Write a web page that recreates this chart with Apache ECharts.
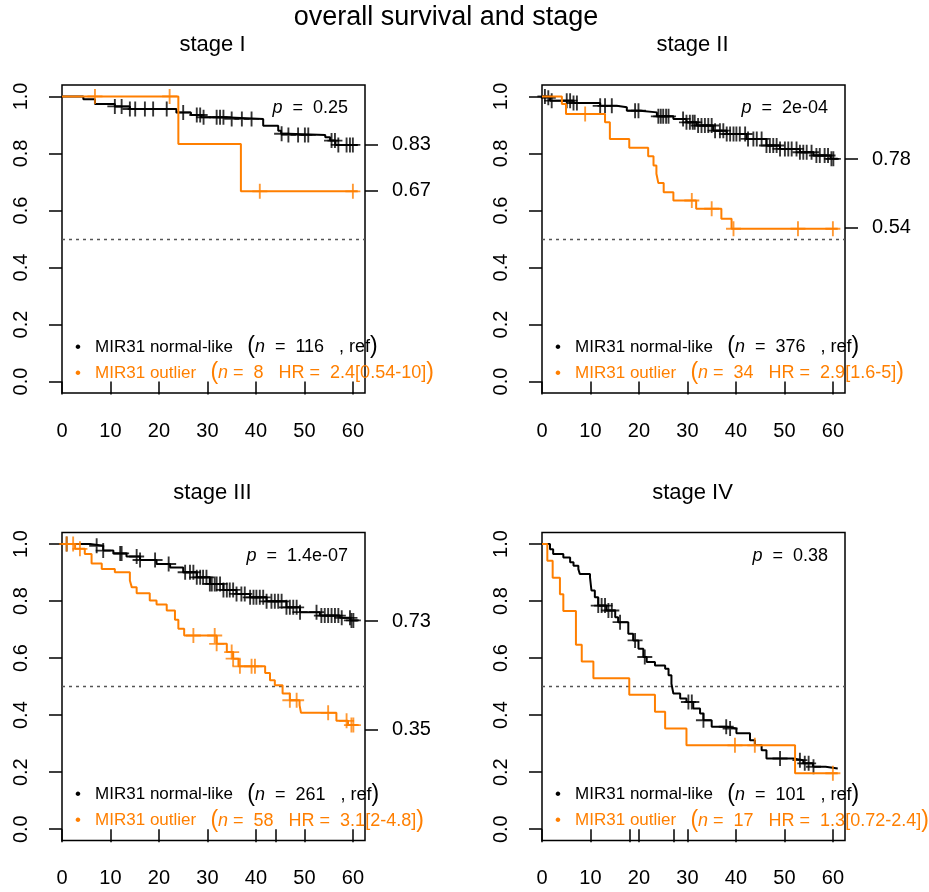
<!DOCTYPE html>
<html><head><meta charset="utf-8">
<script src="https://cdn.jsdelivr.net/npm/echarts@6/dist/echarts.min.js"></script>
<style>html,body{margin:0;padding:0;background:#fff}#c{width:929px;height:892px}</style>
</head><body><div id="c"></div>
<script>
// ---------------- data ----------------
const mainTitle = 'overall survival and stage';
const panelTitles = ['stage I', 'stage II', 'stage III', 'stage IV'];
const xTicks = [0, 10, 20, 30, 40, 50, 60];
const yTicks = [0, 0.2, 0.4, 0.6, 0.8, 1.0];
const groupNames = ['MIR31 normal-like', 'MIR31 outlier'];

// stage I
const s1Normal = [[0,1],[4.4,0.99],[6.8,0.973],[10.9,0.965],[14.0,0.956],[23.6,0.944],[26.6,0.935],[28.7,0.927],[33.5,0.921],[41.5,0.897],[44.6,0.88],[45.2,0.869],[46.7,0.865],[54.3,0.857],[55.3,0.845],[56.4,0.83],[61,0.83]];
const s1NormalCensor = [10.9,12.3,14.0,15.1,17.1,18.8,21.6,25.0,27.8,28.5,29.2,31.9,32.6,33.3,35.0,37.1,39.1,45.3,46.7,48.7,50.1,50.8,55.6,56.3,57.0,58.7,59.4,60.0];
const s1Outlier = [[0,1],[24.0,0.833],[36.9,0.667],[61,0.667]];
const s1OutlierCensor = [6.8,22.2,40.8,60];

// stage II
const s2Normal = [[0,1],[0.8,0.995],[1.65,0.985],[6.5,0.977],[12.0,0.967],[15.4,0.962],[17.5,0.95],[20.2,0.944],[23.7,0.93],[27.1,0.921],[29.8,0.909],[31.9,0.898],[35.3,0.88],[38.1,0.868],[42.2,0.851],[46.3,0.828],[49.1,0.816],[53.2,0.804],[56.0,0.793],[59.5,0.781],[61,0.781]];
const s2NormalCensor = [0.6,1.3,2.0,5.1,5.8,6.5,7.2,12.0,13.0,14.4,19.2,19.9,24.0,24.5,25.0,25.6,26.1,29.1,29.8,30.5,31.1,31.5,32.2,32.9,33.6,34.3,35.0,35.7,36.7,37.4,38.1,38.8,39.5,40.1,40.8,41.9,42.5,43.6,44.3,45.3,46.3,47.0,47.7,48.4,49.1,50.1,50.8,51.5,52.5,53.2,53.9,54.6,55.6,56.6,57.3,58.3,59.0,59.7,60.1];
const s2Outlier = [[0,1],[4.1,0.973],[4.95,0.938],[13.0,0.909],[14.0,0.851],[18.0,0.82],[21.9,0.79],[23.0,0.758],[23.6,0.729],[24.0,0.696],[25.1,0.664],[27.1,0.635],[31.8,0.606],[37.0,0.571],[39.1,0.536],[61,0.536]];
const s2OutlierCensor = [8.9,30.9,35.0,39.5,52.8,60];

// stage III
const s3Normal = [[0,1],[5.8,0.994],[8.5,0.977],[10.6,0.967],[13.3,0.956],[16.1,0.944],[19.5,0.93],[22.3,0.918],[25.0,0.901],[27.8,0.883],[30.5,0.86],[33.3,0.839],[36.0,0.825],[38.8,0.813],[42.2,0.799],[46.3,0.778],[49.1,0.761],[53.2,0.749],[57.3,0.741],[59.5,0.732],[61,0.732]];
const s3NormalCensor = [0.96,7.15,8.5,12.0,12.3,15.4,16.1,19.2,22.0,25.4,26.4,27.1,27.8,28.5,29.1,29.8,30.5,30.9,31.5,31.9,32.6,33.3,34.0,34.6,35.3,36.0,37.0,37.7,38.8,39.5,40.1,40.8,41.5,42.2,43.2,43.9,44.6,45.3,46.3,47.0,47.7,48.4,49.1,52.5,53.5,54.2,54.9,55.6,56.3,57.0,57.7,59.4,59.7,60.1];
const s3Outlier = [[0,1],[2.7,0.983],[4.7,0.965],[6.1,0.932],[8.2,0.912],[10.9,0.901],[14.0,0.872],[14.4,0.848],[15.4,0.827],[18.1,0.802],[19.5,0.788],[21.6,0.767],[23.3,0.734],[24.0,0.703],[25.2,0.679],[31.9,0.65],[34.0,0.621],[35.3,0.598],[36.4,0.571],[41.9,0.548],[42.9,0.522],[43.9,0.505],[45.5,0.476],[47.0,0.452],[49.0,0.435],[49.3,0.408],[56.6,0.38],[59.0,0.365],[61,0.365]];
const s3OutlierCensor = [0.96,2.3,3.7,27.1,31.5,31.9,35.0,35.3,36.7,39.1,39.8,47.0,48.4,54.9,58.7,59.7,60.1];

// stage IV
const s4Normal = [[0,1],[1.65,0.982],[2.3,0.965],[4.4,0.953],[5.8,0.936],[6.5,0.924],[7.5,0.912],[7.8,0.895],[9.9,0.883],[10.2,0.837],[10.9,0.813],[11.6,0.784],[13.3,0.767],[15.1,0.743],[15.7,0.726],[17.8,0.685],[18.8,0.662],[19.9,0.633],[20.9,0.604],[21.6,0.586],[23.3,0.574],[25.4,0.563],[26.1,0.54],[26.7,0.51],[27.1,0.476],[28.5,0.458],[29.8,0.446],[31.2,0.423],[32.6,0.406],[33.3,0.382],[35.0,0.359],[38.1,0.353],[40.1,0.336],[42.9,0.312],[43.9,0.295],[45.3,0.277],[46.3,0.248],[51.8,0.242],[53.9,0.231],[55.9,0.219],[58.5,0.213],[61,0.213]];
const s4NormalCensor = [11.6,12.3,13.0,13.7,14.4,16.1,19.2,21.2,30.2,30.9,33.3,38.0,38.8,49.1,53.2,54.2,55.0,56.0];
const s4Outlier = [[0,1],[1.1,0.941],[2.2,0.882],[3.7,0.824],[4.4,0.765],[7.0,0.647],[8.2,0.588],[10.6,0.529],[18.0,0.471],[23.3,0.412],[25.4,0.353],[29.8,0.294],[52.2,0.196],[61,0.196]];
const s4OutlierCensor = [39.8,43.9,60];

const normalN = ['116', '376', '261', '101'];
const outlierN = ['8', '34', '58', '17'];
const outlierHR = ['2.4[0.54-10]', '2.9[1.6-5]', '3.1[2-4.8]', '1.3[0.72-2.4]'];
const pValues = ['0.25', '2e-04', '1.4e-07', '0.38'];
const rightLabels = [[0.83, 0.67], [0.78, 0.54], [0.73, 0.35], []];
const medianTicks = [[], [], [44], [18, 27.1]];

const normalCurves = [s1Normal, s2Normal, s3Normal, s4Normal];
const normalCensors = [s1NormalCensor, s2NormalCensor, s3NormalCensor, s4NormalCensor];
const outlierCurves = [s1Outlier, s2Outlier, s3Outlier, s4Outlier];
const outlierCensors = [s1OutlierCensor, s2OutlierCensor, s3OutlierCensor, s4OutlierCensor];

// ---------------- layout / style ----------------
const FONT = '"Liberation Sans", Arial, Helvetica, sans-serif';
const ORANGE = '#FF7F00';
const gridLeft = [62, 542, 62, 542];
const gridTop = [85, 85, 532.6, 532.6];
const GW = 303, GH = 308;
const PLUS = 'path://M-1.25,-10 L1.25,-10 L1.25,-1.25 L10,-1.25 L10,1.25 L1.25,1.25 L1.25,10 L-1.25,10 L-1.25,1.25 L-10,1.25 L-10,-1.25 L-1.25,-1.25 Z';

function stepAt(curve, t) {
  let v = curve[0][1];
  for (const p of curve) { if (p[0] <= t) v = p[1]; else break; }
  return v;
}

const grids = [], xAxes = [], yAxes = [], series = [], graphics = [];

for (let i = 0; i < 4; i++) {
  grids.push({ left: gridLeft[i], top: gridTop[i], width: GW, height: GH, show: true, borderColor: '#000', borderWidth: 1.5, backgroundColor: 'transparent' });
  const tickVals = xTicks.concat(medianTicks[i]).sort((a, b) => a - b);
  xAxes.push({
    type: 'value', gridIndex: i, min: 0, max: 62.5,
    axisLine: { show: false },
    axisTick: { show: true, length: 13, lineStyle: { color: '#000', width: 1.5 }, customValues: tickVals },
    axisLabel: { show: true, margin: 28, fontSize: 20, color: '#000', fontFamily: FONT, customValues: xTicks },
    splitLine: { show: false }
  });
  yAxes.push({
    type: 'value', gridIndex: i, min: -0.04, max: 1.04, position: 'left',
    axisLine: { show: false },
    axisTick: { show: true, length: 13, lineStyle: { color: '#000', width: 1.5 }, customValues: yTicks },
    axisLabel: { show: true, margin: 31, rotate: 90, fontSize: 20, color: '#000', fontFamily: FONT, customValues: yTicks, formatter: v => v.toFixed(1) },
    splitLine: { show: false }
  });
  yAxes.push({
    type: 'value', gridIndex: i, min: -0.04, max: 1.04, position: 'right',
    axisLine: { show: false },
    axisTick: { show: rightLabels[i].length > 0, length: 13, lineStyle: { color: '#000', width: 1.5 }, customValues: rightLabels[i] },
    axisLabel: { show: rightLabels[i].length > 0, margin: 27, fontSize: 20, color: '#000', fontFamily: FONT, customValues: rightLabels[i], formatter: v => v.toFixed(2) },
    splitLine: { show: false }
  });

  const yi = 2 * i;
  series.push({
    type: 'line', xAxisIndex: i, yAxisIndex: yi, step: 'end', data: normalCurves[i],
    showSymbol: false, lineStyle: { color: '#000', width: 2 }, itemStyle: { color: '#000' }, z: 3, animation: false,
    markLine: { silent: true, symbol: 'none', label: { show: false }, lineStyle: { color: '#555', width: 1.3, type: [3, 4] }, data: [{ yAxis: 0.5 }] }
  });
  series.push({
    type: 'scatter', xAxisIndex: i, yAxisIndex: yi, data: normalCensors[i].map(t => [t, stepAt(normalCurves[i], t)]),
    symbol: PLUS, symbolSize: 15, itemStyle: { color: '#000' }, z: 4, animation: false
  });
  series.push({
    type: 'line', xAxisIndex: i, yAxisIndex: yi, step: 'end', data: outlierCurves[i],
    showSymbol: false, lineStyle: { color: ORANGE, width: 2 }, itemStyle: { color: ORANGE }, z: 5, animation: false
  });
  series.push({
    type: 'scatter', xAxisIndex: i, yAxisIndex: yi, data: outlierCensors[i].map(t => [t, stepAt(outlierCurves[i], t)]),
    symbol: PLUS, symbolSize: 15, itemStyle: { color: ORANGE }, z: 6, animation: false
  });

  // panel title
  graphics.push({ type: 'text', x: gridLeft[i] + GW / 2 - 1, y: gridTop[i] - 40, style: { text: panelTitles[i], fill: '#000', font: '22px ' + FONT, textAlign: 'center', textVerticalAlign: 'middle' } });
  // p value
  graphics.push({ type: 'text', x: gridLeft[i] + GW - 17, y: gridTop[i] + 23, style: {
    text: '{i|p}{t|  =  ' + pValues[i] + '}', textAlign: 'right', textVerticalAlign: 'middle',
    rich: { i: { fontStyle: 'italic', fontSize: 18, fontFamily: FONT, fill: '#000' }, t: { fontSize: 18, fontFamily: FONT, fill: '#000' } } } });
  // legend
  const ly1 = gridTop[i] + 262, ly2 = gridTop[i] + 288;
  const rich = (col) => ({
    t: { fontSize: 17, fontFamily: FONT, fill: col },
    m: { fontSize: 18, fontFamily: FONT, fill: col },
    it: { fontSize: 18, fontFamily: FONT, fontStyle: 'italic', fill: col },
    par: { fontSize: 23, fontFamily: FONT, fill: col }
  });
  graphics.push({ type: 'text', x: gridLeft[i] + 13, y: ly1, style: {
    text: '{t|•   ' + groupNames[0] + '   }{par|(}{it|n}{m|  =  ' + normalN[i] + '   , ref}{par|)}',
    textVerticalAlign: 'middle', rich: rich('#000') } });
  graphics.push({ type: 'text', x: gridLeft[i] + 13, y: ly2, style: {
    text: '{t|•   ' + groupNames[1] + '   }{par|(}{it|n}{m| =  ' + outlierN[i] + '   HR =  ' + outlierHR[i] + '}{par|)}',
    textVerticalAlign: 'middle', rich: rich(ORANGE) } });
}
graphics.push({ type: 'text', x: 446, y: 18, style: { text: mainTitle, fill: '#000', font: '27px ' + FONT, textAlign: 'center', textVerticalAlign: 'middle' } });

const chart = echarts.init(document.getElementById('c'), null, { renderer: 'canvas' });
chart.setOption({
  animation: false,
  backgroundColor: '#fff',
  grid: grids, xAxis: xAxes, yAxis: yAxes, series: series, graphic: graphics
});
</script></body></html>
